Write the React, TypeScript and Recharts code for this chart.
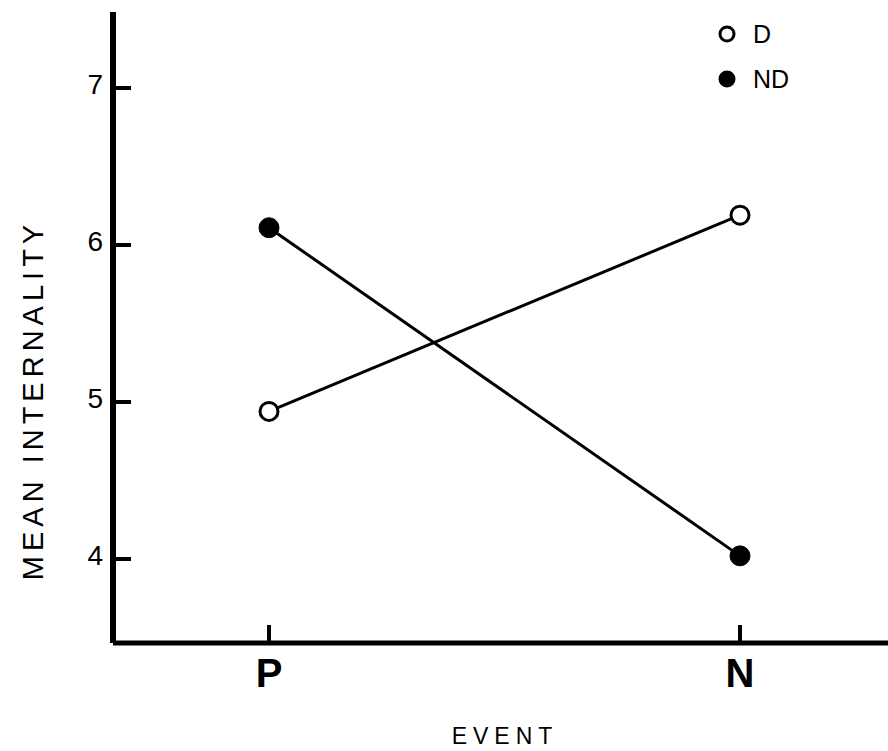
import { LineChart, Line, XAxis, YAxis } from "recharts";

const events = ["P", "N"];
const dValues = [4.94, 6.19];
const ndValues = [6.11, 4.02];
const yTicks = [4, 5, 6, 7];
const seriesNames = ["D", "ND"];

const data = events.map((event, i) => ({ event, D: dValues[i], ND: ndValues[i] }));

const FONT = "'Liberation Sans', Arial, sans-serif";

// ticks point inwards, labels sit outside the axis
function YTick({ x, y, payload }: any) {
  return (
    <g>
      <line x1={x} y1={y} x2={x + 19} y2={y} stroke="#000" strokeWidth={4} />
      <text x={x - 9} y={y} dy={6} textAnchor="end" fontSize={28} fontFamily={FONT} fill="#000">
        {payload.value}
      </text>
    </g>
  );
}

function XTick({ x, y, payload }: any) {
  return (
    <g>
      <line x1={x} y1={y} x2={x} y2={y - 19} stroke="#000" strokeWidth={4} />
      <text x={x} y={y} dy={43} textAnchor="middle" fontSize={40} fontWeight="bold" fontFamily={FONT} fill="#000">
        {payload.value}
      </text>
    </g>
  );
}

function YLabel() {
  const cx = 33;
  const cy = 400;
  return (
    <text
      x={cx}
      y={cy}
      transform={`rotate(-90, ${cx}, ${cy})`}
      textAnchor="middle"
      dominantBaseline="central"
      fontSize={29}
      letterSpacing={5}
      fontFamily={FONT}
      fill="#000"
    >
      MEAN INTERNALITY
    </text>
  );
}

function XLabel() {
  return (
    <text x={505} y={744} textAnchor="middle" fontSize={23} letterSpacing={6} fontFamily={FONT} fill="#000">
      EVENT
    </text>
  );
}

function LegendBox() {
  const fills = ["#fff", "#000"];
  return (
    <svg width={110} height={80} style={{ position: "absolute", left: 715, top: 18 }}>
      {seriesNames.map((name, i) => (
        <g key={name}>
          <circle cx={12} cy={16 + i * 45} r={7} fill={fills[i]} stroke="#000" strokeWidth={3} />
          <text x={38} y={16 + i * 45} dy={9} fontSize={25} fontFamily={FONT} fill="#000">
            {name}
          </text>
        </g>
      ))}
    </svg>
  );
}

export default function App() {
  return (
    <div style={{ position: "absolute", left: 0, top: 0, width: 888, height: 751, background: "#fff" }}>
      <LineChart width={888} height={751} data={data} margin={{ top: 12, right: 0, bottom: 0, left: 0 }}>
        <XAxis
          dataKey="event"
          height={108}
          padding={{ left: 156, right: 148 }}
          axisLine={{ stroke: "#000", strokeWidth: 5 }}
          tickLine={false}
          tickSize={1}
          tickMargin={0}
          tick={<XTick />}
          label={<XLabel />}
        />
        <YAxis
          type="number"
          width={113}
          domain={[3.465, 7.484]}
          ticks={yTicks}
          allowDataOverflow
          axisLine={{ stroke: "#000", strokeWidth: 6 }}
          tickLine={false}
          tickSize={1}
          tickMargin={0}
          tick={<YTick />}
          label={<YLabel />}
        />
        <Line
          dataKey="D"
          stroke="#000"
          strokeWidth={3}
          dot={{ r: 9, fill: "#fff", stroke: "#000", strokeWidth: 3 }}
          isAnimationActive={false}
        />
        <Line
          dataKey="ND"
          stroke="#000"
          strokeWidth={3}
          dot={{ r: 10, fill: "#000", stroke: "#000", strokeWidth: 1 }}
          isAnimationActive={false}
        />
      </LineChart>
      <LegendBox />
    </div>
  );
}
